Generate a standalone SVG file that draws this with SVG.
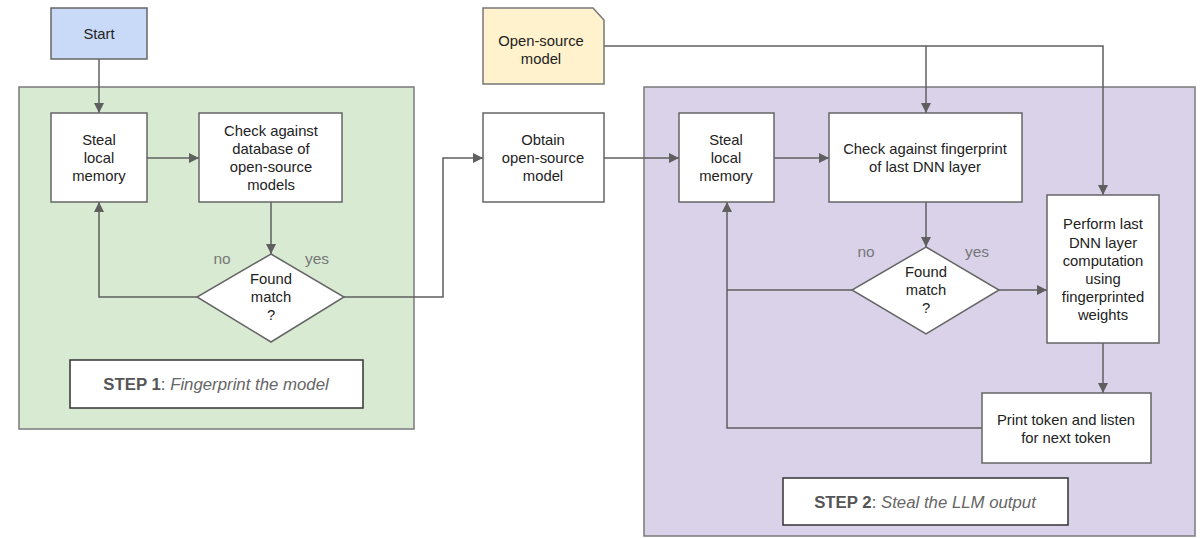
<svg xmlns="http://www.w3.org/2000/svg" width="1200" height="538" viewBox="0 0 1200 538">
<style>
.panel{stroke:#7a7a7a;stroke-width:1.5}
.box{fill:#fff;stroke:#666;stroke-width:1.5}
.step{fill:#fff;stroke:#333;stroke-width:1.5}
.t{font-family:"Liberation Sans",Arial,sans-serif;font-size:14.8px;fill:#222;text-anchor:middle}
.lbl{font-family:"Liberation Sans",Arial,sans-serif;font-size:15.5px;fill:#777;text-anchor:middle}
.st{font-family:"Liberation Sans",Arial,sans-serif;font-size:16.8px;fill:#555;text-anchor:middle}
.c{fill:none;stroke:#5f5f5f;stroke-width:1.5}
</style>
<defs>
<marker id="ah" viewBox="0 0 10 10" refX="10" refY="5" markerWidth="11" markerHeight="10" markerUnits="userSpaceOnUse" orient="auto">
<path d="M0,0 L10,5 L0,10 z" fill="#5f5f5f"/>
</marker>
</defs>
<rect width="1200" height="538" fill="#fff"/>
<g id="panel1"><rect class="panel" x="19" y="87" width="395" height="342" fill="#d9ead3"/></g>
<g id="panel2"><rect class="panel" x="644" y="87" width="551" height="449" fill="#d9d2e9"/></g>
<g id="connectors">
<path class="c" d="M99,59 V113" marker-end="url(#ah)"/>
<path class="c" d="M147,158 H199" marker-end="url(#ah)"/>
<path class="c" d="M271,202 V254" marker-end="url(#ah)"/>
<path class="c" d="M197,297 H99 V202" marker-end="url(#ah)"/>
<path class="c" d="M344,297 H443 V158 H483" marker-end="url(#ah)"/>
<path class="c" d="M604,158 H679" marker-end="url(#ah)"/>
<path class="c" d="M774,158 H829" marker-end="url(#ah)"/>
<path class="c" d="M604,46 H1103 V195" marker-end="url(#ah)"/>
<path class="c" d="M926,46 V113" marker-end="url(#ah)"/>
<path class="c" d="M926,202 V247" marker-end="url(#ah)"/>
<path class="c" d="M999,290 H1047" marker-end="url(#ah)"/>
<path class="c" d="M852,290 H727"/>
<path class="c" d="M982,428 H727 V202" marker-end="url(#ah)"/>
<path class="c" d="M1103,343 V393" marker-end="url(#ah)"/>
</g>
<g id="start"><rect x="51" y="8" width="96" height="51" fill="#c9daf8" stroke="#666" stroke-width="1.5"/><text class="t" x="99" y="39">Start</text></g>
<g id="steal1"><rect class="box" x="51" y="113" width="96" height="89"/>
<text class="t" x="99" y="145">Steal</text><text class="t" x="99" y="163">local</text><text class="t" x="99" y="181">memory</text></g>
<g id="check1"><rect class="box" x="199" y="113" width="143" height="89"/>
<text class="t" x="271" y="136">Check against</text><text class="t" x="271" y="154">database of</text><text class="t" x="271" y="172">open-source</text><text class="t" x="271" y="190">models</text></g>
<g id="diamond1"><path class="box" d="M271,254 L344,297 L271,342 L197,297 Z"/>
<text class="t" x="271" y="284">Found</text><text class="t" x="271" y="302">match</text><text class="t" x="271" y="320">?</text></g>
<text class="lbl" x="222" y="264">no</text>
<text class="lbl" x="317" y="264">yes</text>
<g id="step1"><rect class="step" x="70" y="360" width="293" height="48"/>
<text class="st" x="216" y="390"><tspan font-weight="bold">STEP 1</tspan>: <tspan font-style="italic" fill="#666">Fingerprint the model</tspan></text></g>
<g id="osmodel"><path d="M483,8 H593 L604,20 V84 H483 Z" fill="#fff2cc" stroke="#777" stroke-width="1.5"/>
<text class="t" x="541" y="46">Open-source</text><text class="t" x="541" y="64">model</text></g>
<g id="obtain"><rect class="box" x="483" y="113" width="121" height="89"/>
<text class="t" x="543" y="145">Obtain</text><text class="t" x="543" y="163">open-source</text><text class="t" x="543" y="181">model</text></g>
<g id="steal2"><rect class="box" x="679" y="113" width="95" height="89"/>
<text class="t" x="726" y="145">Steal</text><text class="t" x="726" y="163">local</text><text class="t" x="726" y="181">memory</text></g>
<g id="check2"><rect class="box" x="829" y="113" width="193" height="89"/>
<text class="t" x="925" y="154">Check against fingerprint</text><text class="t" x="925" y="172">of last DNN layer</text></g>
<g id="diamond2"><path class="box" d="M926,247 L999,290 L926,334 L852,290 Z"/>
<text class="t" x="926" y="277">Found</text><text class="t" x="926" y="295">match</text><text class="t" x="926" y="313">?</text></g>
<text class="lbl" x="866" y="257">no</text>
<text class="lbl" x="977" y="257">yes</text>
<g id="perform"><rect class="box" x="1047" y="195" width="112" height="148"/>
<text class="t" x="1103" y="229">Perform last</text><text class="t" x="1103" y="248">DNN layer</text><text class="t" x="1103" y="266">computation</text><text class="t" x="1103" y="284">using</text><text class="t" x="1103" y="302">fingerprinted</text><text class="t" x="1103" y="320">weights</text></g>
<g id="print"><rect class="box" x="982" y="393" width="169" height="70"/>
<text class="t" x="1066" y="425">Print token and listen</text><text class="t" x="1066" y="443">for next token</text></g>
<g id="step2"><rect class="step" x="783" y="478" width="285" height="47"/>
<text class="st" x="925" y="508"><tspan font-weight="bold">STEP 2</tspan>: <tspan font-style="italic" fill="#666">Steal the LLM output</tspan></text></g>
</svg>
